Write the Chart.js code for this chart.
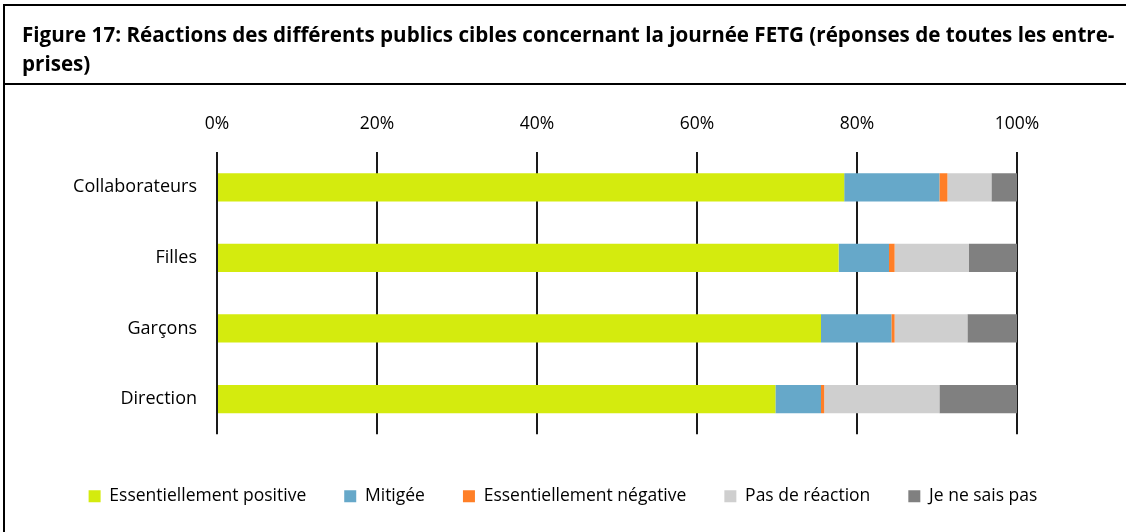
<!DOCTYPE html>
<html>
<head>
<meta charset="utf-8">
<script src="https://cdn.jsdelivr.net/npm/chart.js@4"></script>
<style>
  body { margin: 0; background: #fff; width: 1126px; height: 532px; overflow: hidden; position: relative; }
  #frame { position: absolute; left: 3px; top: 4px; width: 1123px; height: 528px; border-left: 2px solid #000; border-top: 2px solid #000; box-sizing: border-box; z-index: 2; pointer-events: none; }
  #title { height: 79px; border-bottom: 2px solid #000; box-sizing: border-box; padding: 14px 0 0 17px; font: bold 20.6px "Open Sans", sans-serif; line-height: 29px; color: #000; white-space: nowrap; }
  #c { position: absolute; left: 0; top: 86px; }
</style>
</head>
<body>
<div id="frame"><div id="title">Figure 17: Réactions des différents publics cibles concernant la journée FETG (réponses de toutes les entre-<br>prises)</div></div>
<canvas id="c" width="1126" height="446"></canvas>
<script>
const categories = ['Collaborateurs', 'Filles', 'Garçons', 'Direction'];
const positive = [78.4, 77.7, 75.5, 69.8];
const mitigee = [11.9, 6.3, 8.8, 5.7];
const negative = [1.0, 0.7, 0.4, 0.4];
const pasDeReaction = [5.5, 9.3, 9.1, 14.4];
const neSaisPas = [3.2, 6.0, 6.2, 9.7];
const xTicks = [0, 20, 40, 60, 80, 100];

const fontFamily = '"Open Sans", sans-serif';

new Chart(document.getElementById('c'), {
    type: 'bar',
    data: {
        labels: categories,
        datasets: [
            { label: 'Essentiellement positive', data: positive, backgroundColor: '#D4EB0E' },
            { label: 'Mitigée', data: mitigee, backgroundColor: '#66A8C9' },
            { label: 'Essentiellement négative', data: negative, backgroundColor: '#FF7F27' },
            { label: 'Pas de réaction', data: pasDeReaction, backgroundColor: '#CFCFCF' },
            { label: 'Je ne sais pas', data: neSaisPas, backgroundColor: '#808080' }
        ]
    },
    options: {
        indexAxis: 'y',
        responsive: false,
        animation: false,
        barPercentage: 0.4,
        categoryPercentage: 1,
        layout: { padding: { left: 0, right: 0, top: 0, bottom: 17 } },
        scales: {
            x: {
                position: 'top',
                stacked: true,
                min: 0,
                max: 100,
                afterBuildTicks: (scale) => { scale.ticks = xTicks.map(v => ({ value: v })); },
                afterFit: (scale) => { scale.height = 66; },
                ticks: { callback: (v) => v + '%', color: '#000', font: { family: fontFamily, size: 17.5 }, padding: 17, maxRotation: 0 },
                grid: { color: '#1a1a1a', lineWidth: 2, drawTicks: false },
                border: { display: false }
            },
            y: {
                stacked: true,
                afterFit: (scale) => { scale.width = 217; },
                ticks: { color: '#000', font: { family: fontFamily, size: 18 }, padding: 12 },
                grid: { display: false },
                border: { display: false }
            },
            // empty right-hand axis, only reserves the space on the right of the plot
            yRight: {
                type: 'category',
                position: 'right',
                afterFit: (scale) => { scale.width = 109; },
                ticks: { display: false },
                grid: { display: false },
                border: { display: false }
            }
        },
        plugins: {
            tooltip: { enabled: false },
            legend: {
                position: 'bottom',
                title: { display: true, text: '', font: { size: 1 }, padding: { top: 14, bottom: 0 } },
                labels: { boxWidth: 12, boxHeight: 12, padding: 38, color: '#000', font: { family: fontFamily, size: 17.5 } }
            }
        }
    }
});
</script>
</body>
</html>
